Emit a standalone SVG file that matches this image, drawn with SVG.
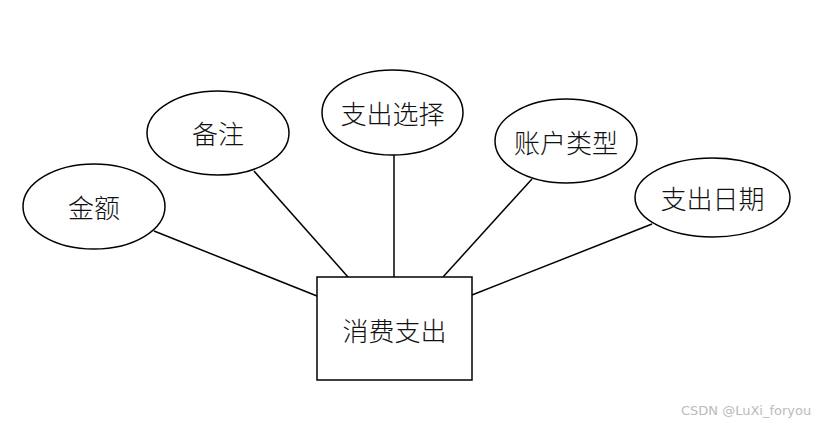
<svg xmlns="http://www.w3.org/2000/svg" width="826" height="425" viewBox="0 0 826 425">
<style>
.shape{fill:#fff;stroke:#000;stroke-width:1.5}
.edge{stroke:#000;stroke-width:1.5;fill:none}
.lbl{font-family:"Noto Sans CJK SC","Noto Sans",sans-serif;font-size:26px;fill:#111;text-anchor:middle;dominant-baseline:central;font-weight:300}
.wm{font-family:"DejaVu Sans","Liberation Sans",sans-serif;font-size:13px;fill:#bbb}
</style>
<rect width="826" height="425" fill="#fff"/>
<g id="connectors">
<line class="edge" x1="154" y1="231" x2="317" y2="296"/>
<line class="edge" x1="254" y1="171" x2="348" y2="277"/>
<line class="edge" x1="394" y1="155" x2="394" y2="277"/>
<line class="edge" x1="532" y1="179" x2="443" y2="277"/>
<line class="edge" x1="652" y1="224" x2="472" y2="295"/>
</g>
<g id="node-xiaofei">
<rect class="shape" x="317" y="277" width="155" height="103"/>
<text class="lbl" x="394.5" y="329">消费支出</text>
</g>
<g id="node-jine">
<ellipse class="shape" cx="94" cy="206.5" rx="71" ry="42.5"/>
<text class="lbl" x="94" y="206">金额</text>
</g>
<g id="node-beizhu">
<ellipse class="shape" cx="218" cy="133" rx="71" ry="42"/>
<text class="lbl" x="218" y="132">备注</text>
</g>
<g id="node-zhichuxuanze">
<ellipse class="shape" cx="392.5" cy="112.5" rx="70.5" ry="42.5"/>
<text class="lbl" x="392.5" y="112">支出选择</text>
</g>
<g id="node-zhanghuleixing">
<ellipse class="shape" cx="566" cy="141" rx="71" ry="42"/>
<text class="lbl" x="566" y="141">账户类型</text>
</g>
<g id="node-zhichuriqi">
<ellipse class="shape" cx="712.5" cy="197.5" rx="77.5" ry="39.5"/>
<text class="lbl" x="712.5" y="197">支出日期</text>
</g>
<text class="wm" x="681" y="415">CSDN @LuXi_foryou</text>
</svg>
